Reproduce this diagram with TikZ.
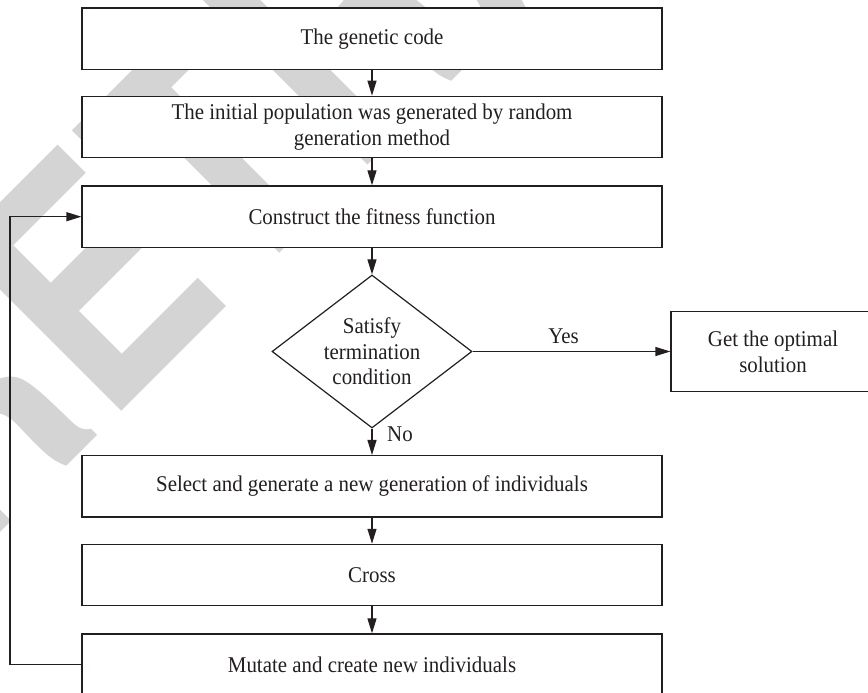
\documentclass[tikz,border=0pt]{standalone}
\usepackage{fontspec}
\setmainfont{Liberation Serif}[FakeStretch=0.93]
\newfontfamily\stampfont{TeX Gyre Heros}[FakeStretch=0.85]
\usetikzlibrary{arrows.meta,shapes.geometric}
\definecolor{ink}{RGB}{35,31,32}
\definecolor{stamp}{RGB}{212,212,212}
\begin{document}
\begin{tikzpicture}[x=1pt,y=-1pt,
  flowbox/.style={draw=ink, fill=white, line width=1.2pt, minimum width=580pt,
    minimum height=61.5pt, inner sep=0pt, align=center, text=ink,
    font=\fontsize{22.5}{26}\selectfont},
  decision/.style={draw=ink, fill=white, line width=1.2pt, diamond, aspect=1.3,
    minimum width=200pt, minimum height=153pt, inner sep=0pt, align=center,
    text=ink, font=\fontsize{22.5}{25.5}\selectfont},
  flow/.style={draw=ink, line width=1.2pt, -{Triangle[length=15pt,width=9pt]}},
  lbl/.style={text=ink, inner sep=0pt, font=\fontsize{22.5}{26}\selectfont}
]
\useasboundingbox (0,0) rectangle (868,693);
\clip (0,0) rectangle (868,693);

% background stamp
\node[rotate=45, anchor=base west, inner sep=0pt, text=stamp,
  font=\stampfont\bfseries\fontsize{320}{320}\selectfont] (stamp) at (-32.5,565.5) {RETRACTED};

% process steps
\node[flowbox] (code) at (372,38.7) {The genetic code};
\node[flowbox] (init) at (372,127) {The initial population was generated by random\\generation method};
\node[flowbox] (fit) at (372,216.7) {Construct the fitness function};
\node[decision] (cond) at (372,351.5) {Satisfy\\termination\\condition};
\node[flowbox, minimum width=204pt, minimum height=80pt] (opt) at (773,351.5) {Get the optimal\\solution};
\node[flowbox] (sel) at (372,486.3) {Select and generate a new generation of individuals};
\node[flowbox] (cross) at (372,575.1) {Cross};
\node[flowbox] (mut) at (372,664.7) {Mutate and create new individuals};

% connectors
\draw[flow] (code) -- (init);
\draw[flow] (init) -- (fit);
\draw[flow] (fit) -- (cond);
\draw[flow] (cond.east) -- node[lbl, pos=0.46, yshift=15.5pt] {Yes} (opt.west);
\draw[flow] (cond.south) -- node[lbl, pos=0.22, xshift=28pt] {No} (sel.north);
\draw[flow] (sel) -- (cross);
\draw[flow] (cross) -- (mut);
\coordinate (turn) at (10,664.7);
\draw[flow] (mut.west) -- (turn) |- (fit.west);
\end{tikzpicture}
\end{document}
